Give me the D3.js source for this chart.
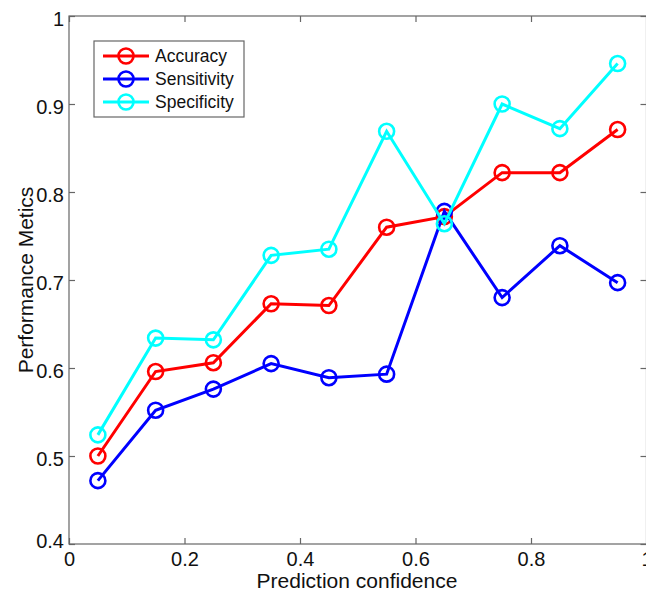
<!DOCTYPE html>
<html>
<head>
<meta charset="utf-8">
<script src="https://cdn.jsdelivr.net/npm/d3@7"></script>
<style>
  body { margin: 0; background: #fff; }
  text { font-family: "Liberation Sans", Arial, sans-serif; }
</style>
</head>
<body>
<div id="chart"></div>
<script>
// data
var confidence = [0.05, 0.15, 0.25, 0.35, 0.45, 0.55, 0.65, 0.75, 0.85, 0.95];
var accuracy    = [0.500, 0.596, 0.606, 0.673, 0.671, 0.760, 0.772, 0.822, 0.822, 0.871];
var sensitivity = [0.472, 0.552, 0.576, 0.605, 0.589, 0.593, 0.778, 0.680, 0.739, 0.697];
var specificity = [0.524, 0.634, 0.632, 0.728, 0.735, 0.869, 0.764, 0.900, 0.872, 0.946];
var seriesNames = ["Accuracy", "Sensitivity", "Specificity"];
var seriesColors = ["#ff0000", "#0000ff", "#00ffff"];
var xTicks = [0, 0.2, 0.4, 0.6, 0.8, 1];
var yTicks = [0.4, 0.5, 0.6, 0.7, 0.8, 0.9, 1];

var W = 646, H = 591;
var margin = {top: 16, right: 0, bottom: 47, left: 69};
var width = 646.5 - margin.left,
    height = 544 - margin.top;

var svg = d3.select("#chart").append("svg")
    .attr("width", W).attr("height", H);

var g = svg.append("g")
    .attr("transform", "translate(" + margin.left + "," + margin.top + ")");

var x = d3.scaleLinear().domain([0, 1]).range([0, width]);
var y = d3.scaleLinear().domain([0.4, 1]).range([height, 0]);

var axisColor = "#666";

// box
g.append("rect")
    .attr("x", 0).attr("y", 0)
    .attr("width", width).attr("height", height)
    .attr("fill", "none").attr("stroke", axisColor).attr("stroke-width", 1.2);

// axes, ticks pointing inward
var xAxis = g.append("g").attr("transform", "translate(0," + height + ")")
    .call(d3.axisBottom(x).tickValues(xTicks).tickSizeInner(-6).tickSizeOuter(0)
        .tickPadding(8).tickFormat(function(d){ return d === 0 || d === 1 ? d : d3.format(".1f")(d); }));
var xTop = g.append("g")
    .call(d3.axisTop(x).tickValues(xTicks).tickSizeInner(-6).tickSizeOuter(0).tickFormat(""));
var yAxis = g.append("g")
    .call(d3.axisLeft(y).tickValues(yTicks).tickSizeInner(-6).tickSizeOuter(0)
        .tickPadding(5).tickFormat(function(d){ return d === 1 ? "1" : d3.format(".1f")(d); }));
var yRight = g.append("g").attr("transform", "translate(" + width + ",0)")
    .call(d3.axisRight(y).tickValues(yTicks).tickSizeInner(-6).tickSizeOuter(0).tickFormat(""));

[xAxis, xTop, yAxis, yRight].forEach(function(a){
  a.select(".domain").remove();
  a.selectAll("line").attr("stroke", axisColor).attr("stroke-width", 1.2);
  a.selectAll("text").attr("fill", "#111").style("font-size", "20px");
});
yAxis.selectAll("text").attr("dy", "0.45em");
yAxis.selectAll(".tick").filter(function(d){ return d === 0.4; }).select("text").attr("dy", "0.15em");

// series
var series = [accuracy, sensitivity, specificity];
var line = d3.line()
    .x(function(d, i){ return x(confidence[i]); })
    .y(function(d){ return y(d); });

series.forEach(function(vals, k){
  g.append("path")
      .datum(vals)
      .attr("d", line)
      .attr("fill", "none")
      .attr("stroke", seriesColors[k])
      .attr("stroke-width", 3);
  g.selectAll(".pt" + k)
      .data(vals)
      .enter().append("circle")
      .attr("cx", function(d, i){ return x(confidence[i]); })
      .attr("cy", function(d){ return y(d); })
      .attr("r", 7.5)
      .attr("fill", "none")
      .attr("stroke", seriesColors[k])
      .attr("stroke-width", 2.6);
});

// legend
var legend = svg.append("g").attr("transform", "translate(94,41)");
legend.append("rect")
    .attr("width", 150).attr("height", 76)
    .attr("fill", "#fff").attr("stroke", axisColor).attr("stroke-width", 1.2);
seriesNames.forEach(function(name, k){
  var ly = 15 + k * 23;
  legend.append("line")
      .attr("x1", 9).attr("x2", 55).attr("y1", ly).attr("y2", ly)
      .attr("stroke", seriesColors[k]).attr("stroke-width", 3);
  legend.append("circle")
      .attr("cx", 32).attr("cy", ly).attr("r", 7.5)
      .attr("fill", "none").attr("stroke", seriesColors[k]).attr("stroke-width", 2.6);
  legend.append("text")
      .attr("x", 61).attr("y", ly + 6)
      .style("font-size", "17.5px").attr("fill", "#111")
      .text(name);
});

// axis labels
svg.append("text")
    .attr("x", 357).attr("y", 588)
    .attr("text-anchor", "middle")
    .style("font-size", "21px").attr("fill", "#111")
    .text("Prediction confidence");
svg.append("text")
    .attr("transform", "translate(33," + 280 + ") rotate(-90)")
    .attr("text-anchor", "middle")
    .style("font-size", "21px").attr("fill", "#111")
    .text("Performance Metics");
</script>
</body>
</html>
